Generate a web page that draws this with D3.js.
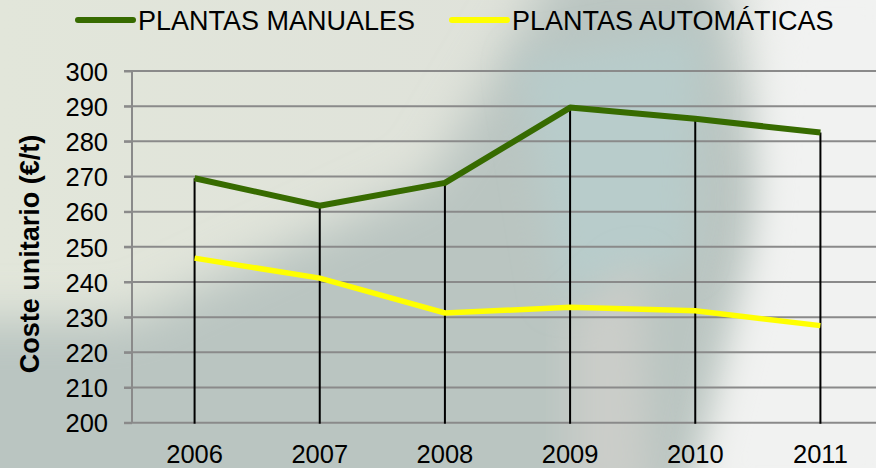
<!DOCTYPE html>
<html>
<head>
<meta charset="utf-8">
<script src="https://cdn.jsdelivr.net/npm/d3@7/dist/d3.min.js"></script>
<style>
  body { margin: 0; overflow: hidden; }
  svg { display: block; font-family: "Liberation Sans", Arial, sans-serif; }
</style>
</head>
<body>
<svg width="876" height="468"></svg>
<script>
var years = ["2006", "2007", "2008", "2009", "2010", "2011"],
    manuales = [269.5, 261.7, 268.2, 289.6, 286.4, 282.5],
    automaticas = [246.8, 241.1, 231.2, 232.8, 231.8, 227.6],
    yTicks = [200, 210, 220, 230, 240, 250, 260, 270, 280, 290, 300],
    seriesNames = ["PLANTAS MANUALES", "PLANTAS AUTOMÁTICAS"],
    seriesColors = ["#376b00", "#ffff00"];

var svg = d3.select("svg"),
    width = 876,
    height = 468,
    margin = {top: 71, left: 132, bottom: 45};

// background
var defs = svg.append("defs");
var bg = defs.append("linearGradient").attr("id", "bg").attr("x1", 0).attr("x2", 1).attr("y1", 0).attr("y2", 0);
bg.append("stop").attr("offset", "0%").attr("stop-color", "#e2e6da");
bg.append("stop").attr("offset", "60%").attr("stop-color", "#dfe2da");
bg.append("stop").attr("offset", "100%").attr("stop-color", "#f2f3f2");
defs.append("filter").attr("id", "blur").attr("x", "-20%").attr("y", "-20%").attr("width", "140%").attr("height", "140%")
    .append("feGaussianBlur").attr("stdDeviation", 24);
defs.append("filter").attr("id", "blur2").attr("x", "-30%").attr("y", "-30%").attr("width", "160%").attr("height", "160%")
    .append("feGaussianBlur").attr("stdDeviation", 18);

svg.append("rect").attr("width", width).attr("height", height).attr("fill", "url(#bg)");
var deco = svg.append("g");
deco.append("path")
    .attr("d", "M-60,320 L130,320 L430,180 L560,-40 L720,-40 L770,200 L690,520 L-60,520 Z")
    .attr("fill", "#bac5c1")
    .attr("filter", "url(#blur)");
deco.append("path")
    .attr("d", "M520,60 L700,30 L690,260 L560,300 Z")
    .attr("fill", "#b8cccb")
    .attr("filter", "url(#blur2)");
deco.append("path")
    .attr("d", "M570,320 L640,260 L650,500 L570,500 Z")
    .attr("fill", "#cbcdc9")
    .attr("filter", "url(#blur2)");
deco.append("path")
    .attr("d", "M780,-20 L900,-20 L900,500 L700,500 L760,260 Z")
    .attr("fill", "#f1f2f1")
    .attr("filter", "url(#blur2)");

var x = d3.scalePoint().domain(years).range([margin.left, 883]).padding(0.5);
var y = d3.scaleLinear().domain([200, 300]).range([height - margin.bottom - 0.3, margin.top]);

// gridlines
svg.append("g")
    .selectAll("line")
    .data(yTicks)
    .enter().append("line")
    .attr("x1", margin.left - 8)
    .attr("x2", width)
    .attr("y1", function(d) { return y(d); })
    .attr("y2", function(d) { return y(d); })
    .style("stroke", "#8a8a8a")
    .style("stroke-width", 2);

// y axis
var yAxis = svg.append("g")
    .attr("transform", "translate(" + margin.left + ",0)")
    .call(d3.axisLeft(y).tickValues(yTicks).tickSize(8).tickPadding(16));
yAxis.select(".domain").attr("stroke", "#8a8a8a").attr("stroke-width", 2).attr("d", "M0," + y(200) + "V" + y(300));
yAxis.selectAll(".tick line").attr("stroke", "#8a8a8a").attr("stroke-width", 2);
yAxis.selectAll("text").attr("fill", "#000").style("font-size", "25.5px").attr("dy", "0.36em");

// x labels
svg.append("g")
    .selectAll("text")
    .data(years)
    .enter().append("text")
    .attr("x", function(d) { return x(d); })
    .attr("y", 463)
    .attr("text-anchor", "middle")
    .style("font-size", "25.5px")
    .text(function(d) { return d; });

// drop lines
svg.append("g")
    .selectAll("line")
    .data(years)
    .enter().append("line")
    .attr("x1", function(d) { return x(d); })
    .attr("x2", function(d) { return x(d); })
    .attr("y1", function(d, i) { return y(manuales[i]); })
    .attr("y2", y(200) + 1)
    .style("stroke", "#000")
    .style("stroke-width", 2);

var line = d3.line()
    .x(function(d, i) { return x(years[i]); })
    .y(function(d) { return y(d); });

svg.append("path")
    .datum(automaticas)
    .attr("d", line)
    .attr("fill", "none")
    .attr("stroke", seriesColors[1])
    .attr("stroke-width", 5.5);

svg.append("path")
    .datum(manuales)
    .attr("d", line)
    .attr("fill", "none")
    .attr("stroke", seriesColors[0])
    .attr("stroke-width", 6)
    .attr("stroke-linejoin", "round");

// y title
svg.append("text")
    .attr("transform", "translate(39,254) rotate(-90)")
    .attr("text-anchor", "middle")
    .style("font-size", "27px")
    .style("font-weight", "bold")
    .text("Coste unitario (€/t)");

// legend
var legendX = [78, 452];
var legend = svg.append("g")
    .selectAll("g")
    .data(seriesNames)
    .enter().append("g")
    .attr("transform", function(d, i) { return "translate(" + legendX[i] + ",20)"; });

legend.append("line")
    .attr("x1", 0)
    .attr("x2", 55)
    .style("stroke", function(d, i) { return seriesColors[i]; })
    .style("stroke-width", 6)
    .style("stroke-linecap", "round");

legend.append("text")
    .attr("x", 60)
    .attr("y", 9.5)
    .style("font-size", "27px")
    .text(function(d) { return d; });
</script>
</body>
</html>
